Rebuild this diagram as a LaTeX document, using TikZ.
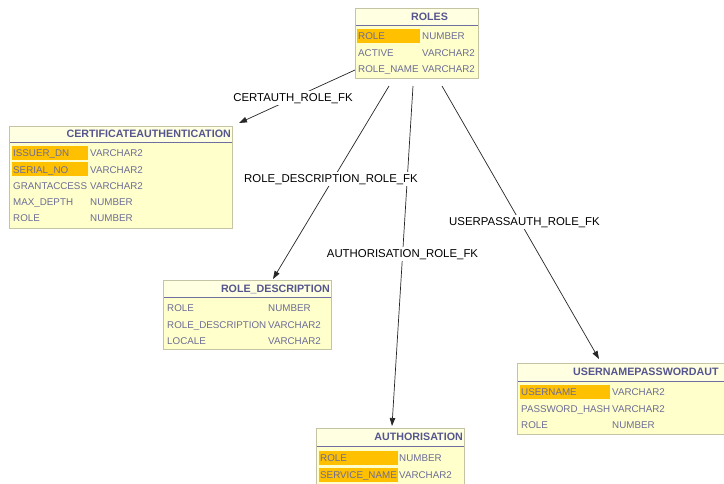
\documentclass[tikz,border=0pt]{standalone}
\usepackage{fontspec}
\setmainfont{Liberation Sans}
\usetikzlibrary{arrows.meta}

\definecolor{tblfill}{HTML}{FFFFCC}
\definecolor{tblhead}{HTML}{FFFFE2}
\definecolor{tblborder}{HTML}{C4C4A4}
\definecolor{tbltitle}{HTML}{55558F}
\definecolor{tbltext}{HTML}{6C6C96}
\definecolor{keyfill}{HTML}{FFC000}
\definecolor{headrule}{HTML}{6E6EA0}

\tikzset{
  tbl/.style={fill=tblfill, draw=none, inner sep=0pt, anchor=north west},
  tblframe/.style={draw=tblborder, line width=1pt},
  tblhead/.style={fill=tblhead},
  headrule/.style={draw=headrule, line width=0.9pt},
  tbltitle/.style={font=\fontsize{10.7}{12}\bfseries\selectfont, text=tbltitle,
    inner sep=0pt, text height=7.7pt, text depth=0pt},
  col/.style={font=\fontsize{9.8}{11}\selectfont, text=tbltext, inner sep=0pt,
    anchor=west, text height=7pt, text depth=0pt},
  keybox/.style={fill=keyfill},
  fk/.style={draw=black!85, line width=0.7pt, -{Triangle[length=8pt,width=5.5pt]}},
  fklabel/.style={fill=white, inner sep=2pt, font=\fontsize{11.4}{13}\selectfont,
    text height=8.2pt, text depth=1pt},
}

\begin{document}
\begin{tikzpicture}[x=1pt,y=-1pt]
\clip (0,0) rectangle (724,483);
\fill[white] (0,0) rectangle (724,483);

% ---------------- ROLES ----------------
\node[tbl, minimum width=123pt, minimum height=70pt] (roles) at (355,8) {};
\fill[tblhead] (355.5,8.5) rectangle (477.5,25);
\draw[headrule] (355.5,25) -- (477.5,25);
\node[tbltitle] (roles-title) at (429.5,17) {ROLES};
\fill[keybox] (357,29) rectangle (420,43);
\node[col] (roles-n1) at (358,36) {ROLE};
\node[col] (roles-t1) at (422,36) {NUMBER};
\node[col] (roles-n2) at (358,52.5) {ACTIVE};
\node[col] (roles-t2) at (422,52.5) {VARCHAR2};
\node[col] (roles-n3) at (358,69) {ROLE\_NAME};
\node[col] (roles-t3) at (422,69) {VARCHAR2};
\draw[tblframe] (roles.north west) rectangle (roles.south east);

% ---------------- CERTIFICATEAUTHENTICATION ----------------
\node[tbl, minimum width=223pt, minimum height=102pt] (cert) at (9,126) {};
\fill[tblhead] (9.5,126.5) rectangle (231.5,142);
\draw[headrule] (9.5,142) -- (231.5,142);
\node[tbltitle, anchor=east] (cert-title) at (231,133.5) {CERTIFICATEAUTHENTICATION};
\fill[keybox] (12,146) rectangle (88,160);
\fill[keybox] (12,162) rectangle (88,176);
\node[col] (cert-n1) at (13,153) {ISSUER\_DN};
\node[col] (cert-t1) at (90,153) {VARCHAR2};
\node[col] (cert-n2) at (13,169.5) {SERIAL\_NO};
\node[col] (cert-t2) at (90,169.5) {VARCHAR2};
\node[col] (cert-n3) at (13,186) {GRANTACCESS};
\node[col] (cert-t3) at (90,186) {VARCHAR2};
\node[col] (cert-n4) at (13,202) {MAX\_DEPTH};
\node[col] (cert-t4) at (90,202) {NUMBER};
\node[col] (cert-n5) at (13,218) {ROLE};
\node[col] (cert-t5) at (90,218) {NUMBER};
\draw[tblframe] (cert.north west) rectangle (cert.south east);

% ---------------- ROLE_DESCRIPTION ----------------
\node[tbl, minimum width=168pt, minimum height=69pt] (rdesc) at (163,280) {};
\fill[tblhead] (163.5,280.5) rectangle (330.5,297);
\draw[headrule] (163.5,297) -- (330.5,297);
\node[tbltitle, anchor=east] (rdesc-title) at (330,289) {ROLE\_DESCRIPTION};
\node[col] (rdesc-n1) at (167,308) {ROLE};
\node[col] (rdesc-t1) at (268,308) {NUMBER};
\node[col] (rdesc-n2) at (167,325) {ROLE\_DESCRIPTION};
\node[col] (rdesc-t2) at (268,325) {VARCHAR2};
\node[col] (rdesc-n3) at (167,341) {LOCALE};
\node[col] (rdesc-t3) at (268,341) {VARCHAR2};
\draw[tblframe] (rdesc.north west) rectangle (rdesc.south east);

% ---------------- USERNAMEPASSWORD... ----------------
\node[tbl, minimum width=213pt, minimum height=71pt] (upass) at (517,363) {};
\fill[tblhead] (517.5,363.5) rectangle (729.5,381);
\draw[headrule] (517.5,381) -- (729.5,381);
\node[tbltitle, anchor=west] (upass-title) at (573,372) {USERNAMEPASSWORDAUT};
\fill[keybox] (520,385) rectangle (610,399);
\node[col] (upass-n1) at (521,392) {USERNAME};
\node[col] (upass-t1) at (612,392) {VARCHAR2};
\node[col] (upass-n2) at (521,408.5) {PASSWORD\_HASH};
\node[col] (upass-t2) at (612,408.5) {VARCHAR2};
\node[col] (upass-n3) at (521,425) {ROLE};
\node[col] (upass-t3) at (612,425) {NUMBER};
\draw[tblframe] (upass.north west) rectangle (upass.south east);

% ---------------- AUTHORISATION ----------------
\node[tbl, minimum width=148pt, minimum height=70pt] (auth) at (316,428) {};
\fill[tblhead] (316.5,428.5) rectangle (463.5,446);
\draw[headrule] (316.5,446) -- (463.5,446);
\node[tbltitle, anchor=east] (auth-title) at (463,437) {AUTHORISATION};
\fill[keybox] (319,451) rectangle (398,465);
\fill[keybox] (319,468) rectangle (398,482);
\node[col] (auth-n1) at (320,458) {ROLE};
\node[col] (auth-t1) at (399,458) {NUMBER};
\node[col] (auth-n2) at (320,474.5) {SERVICE\_NAME};
\node[col] (auth-t2) at (399,474.5) {VARCHAR2};
\draw[tblframe] (auth.north west) rectangle (auth.south east);

% ---------------- foreign keys ----------------
\coordinate (roles-fk1) at (355,70);
\coordinate (roles-fk2) at (389,86);
\coordinate (roles-fk3) at (413,86);
\coordinate (roles-fk4) at (442,86);
\coordinate (cert-in) at (239,123);
\coordinate (rdesc-in) at (273,279);
\coordinate (auth-in) at (392,426);
\coordinate (upass-in) at (599,359);

\draw[fk] (roles-fk1) -- (cert-in);
\draw[fk] (roles-fk2) -- (rdesc-in);
\draw[fk] (roles-fk3) -- (auth-in);
\draw[fk] (roles-fk4) -- (upass-in);

\node[fklabel] (lbl-cert) at (293,98) {CERTAUTH\_ROLE\_FK};
\node[fklabel] (lbl-rdesc) at (331,179) {ROLE\_DESCRIPTION\_ROLE\_FK};
\node[fklabel] (lbl-auth) at (402.5,254) {AUTHORISATION\_ROLE\_FK};
\node[fklabel] (lbl-upass) at (524.5,222) {USERPASSAUTH\_ROLE\_FK};
\end{tikzpicture}
\end{document}
